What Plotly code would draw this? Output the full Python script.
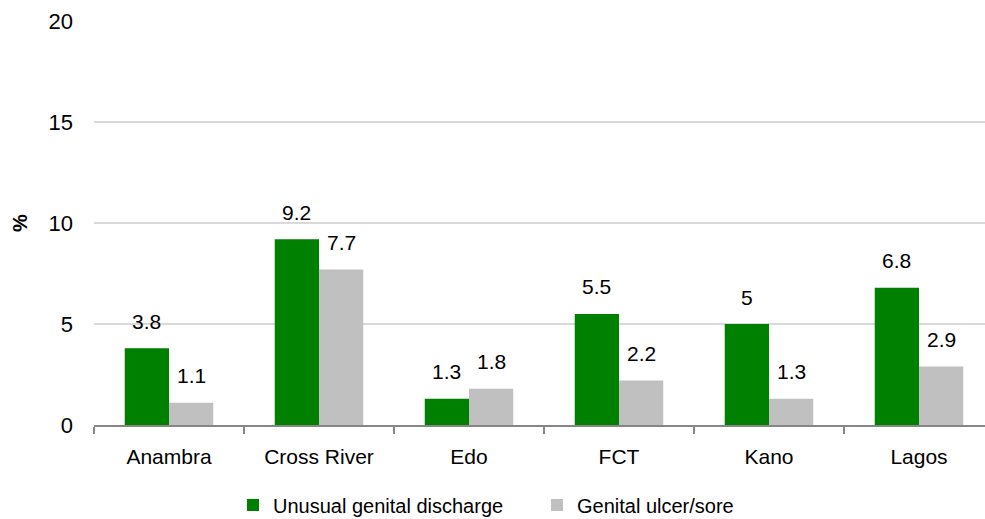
import plotly.graph_objects as go

categories = ["Anambra", "Cross River", "Edo", "FCT", "Kano", "Lagos"]
discharge = [3.8, 9.2, 1.3, 5.5, 5, 6.8]
ulcer = [1.1, 7.7, 1.8, 2.2, 1.3, 2.9]
series_names = ["Unusual genital discharge", "Genital ulcer/sore"]
colors = ["#008000", "#c0c0c0"]
y_ticks = [0, 5, 10, 15, 20]

FONT = "Liberation Sans, Arial, sans-serif"

fig = go.Figure()
for name, vals, col in zip(series_names, [discharge, ulcer], colors):
    fig.add_trace(go.Bar(x=categories, y=vals, name=name, marker=dict(color=col, line=dict(width=0))))

annotations = []
for vals, shift in [(discharge, -22.5), (ulcer, 22.5)]:
    for c, v in zip(categories, vals):
        annotations.append(dict(x=c, y=v, xref="x", yref="y", text=str(v), showarrow=False,
                                xshift=shift, yshift=27, yanchor="middle",
                                font=dict(family=FONT, size=21, color="#000000")))
annotations.append(dict(text="<b>%</b>", xref="paper", yref="paper", x=0, y=0.5, xshift=-74,
                        textangle=-90, showarrow=False, xanchor="center", yanchor="middle",
                        font=dict(family=FONT, size=20, color="#000000")))

fig.update_layout(
    width=985, height=519,
    margin=dict(l=94, r=0, t=21, b=94, autoexpand=False),
    paper_bgcolor="white", plot_bgcolor="white",
    barmode="group", bargap=0.41, bargroupgap=0,
    font=dict(family=FONT, size=20, color="#000000"),
    showlegend=True,
    legend=dict(orientation="h", xref="container", x=233 / 985, xanchor="left",
                yref="paper", y=-0.198, yanchor="middle",
                font=dict(family=FONT, size=20), itemwidth=30,
                traceorder="normal", entrywidth=259, entrywidthmode="pixels"),
    annotations=annotations,
    xaxis=dict(range=[-0.5, 5.44], showgrid=False, showline=True, linecolor="#868686", linewidth=2,
               ticks="outside", tickson="boundaries", ticklen=7, tickcolor="#868686", tickwidth=2,
               tickfont=dict(family=FONT, size=21), ticklabelstandoff=12, automargin=False),
    yaxis=dict(range=[0, 20], tickvals=y_ticks, showgrid=True, gridcolor="#d9d9d9", gridwidth=2,
               zeroline=False, showline=False, ticks="", tickfont=dict(family=FONT, size=22),
               ticklabelstandoff=20, automargin=False),
)

fig.write_html("out.html", config={"displayModeBar": False},
               post_script="document.body.style.margin='0';document.body.style.overflow='hidden';")
